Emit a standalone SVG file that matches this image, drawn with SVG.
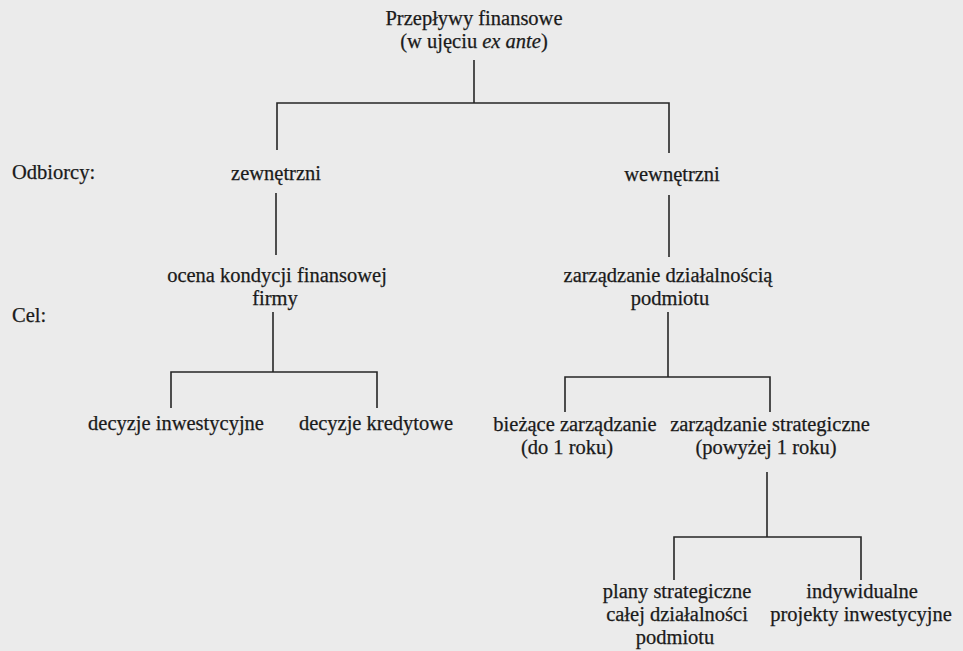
<svg xmlns="http://www.w3.org/2000/svg" width="963" height="651" viewBox="0 0 963 651">
<style>
text{font-family:'Liberation Serif','DejaVu Serif','Noto Serif',serif;font-size:20.5px;fill:#1a1a1a;stroke:#1a1a1a;stroke-width:0.25;text-anchor:middle}
.l{text-anchor:start}
.c{fill:none;stroke:#262626;stroke-width:1.6}
</style>
<rect width="963" height="651" fill="#ebebeb"/>
<g id="connectors">
<path class="c" d="M474 60V103"/>
<path class="c" d="M277 150V103H669V153"/>
<path class="c" d="M276 193V255"/>
<path class="c" d="M669 195V257"/>
<path class="c" d="M273 312V372"/>
<path class="c" d="M171 408V372H377V408"/>
<path class="c" d="M668 312V377"/>
<path class="c" d="M565 412V377H770V412"/>
<path class="c" d="M767 472V537"/>
<path class="c" d="M674 580V537H861V580"/>
</g>
<g id="labels">
<text class="l" x="12" y="179">Odbiorcy:</text>
<text class="l" x="12" y="322">Cel:</text>
</g>
<g id="root">
<text x="474" y="25">Przepływy finansowe</text>
<text x="474" y="48">(w ujęciu <tspan font-style="italic">ex ante</tspan>)</text>
</g>
<g id="zewnetrzni"><text x="276" y="180">zewnętrzni</text></g>
<g id="wewnetrzni"><text x="672" y="181">wewnętrzni</text></g>
<g id="ocena">
<text x="277" y="282">ocena kondycji finansowej</text>
<text x="275" y="305">firmy</text>
</g>
<g id="zarzadzanie">
<text x="668" y="282">zarządzanie działalnością</text>
<text x="670" y="305">podmiotu</text>
</g>
<g id="inwestycyjne"><text x="176" y="430">decyzje inwestycyjne</text></g>
<g id="kredytowe"><text x="376" y="430">decyzje kredytowe</text></g>
<g id="biezace">
<text x="575" y="431">bieżące zarządzanie</text>
<text x="567" y="454">(do 1 roku)</text>
</g>
<g id="strategiczne">
<text x="770" y="431">zarządzanie strategiczne</text>
<text x="766" y="454">(powyżej 1 roku)</text>
</g>
<g id="plany">
<text x="677" y="598">plany strategiczne</text>
<text x="677" y="621">całej działalności</text>
<text x="675" y="644">podmiotu</text>
</g>
<g id="projekty">
<text x="862" y="598">indywidualne</text>
<text x="861" y="621">projekty inwestycyjne</text>
</g>
</svg>
